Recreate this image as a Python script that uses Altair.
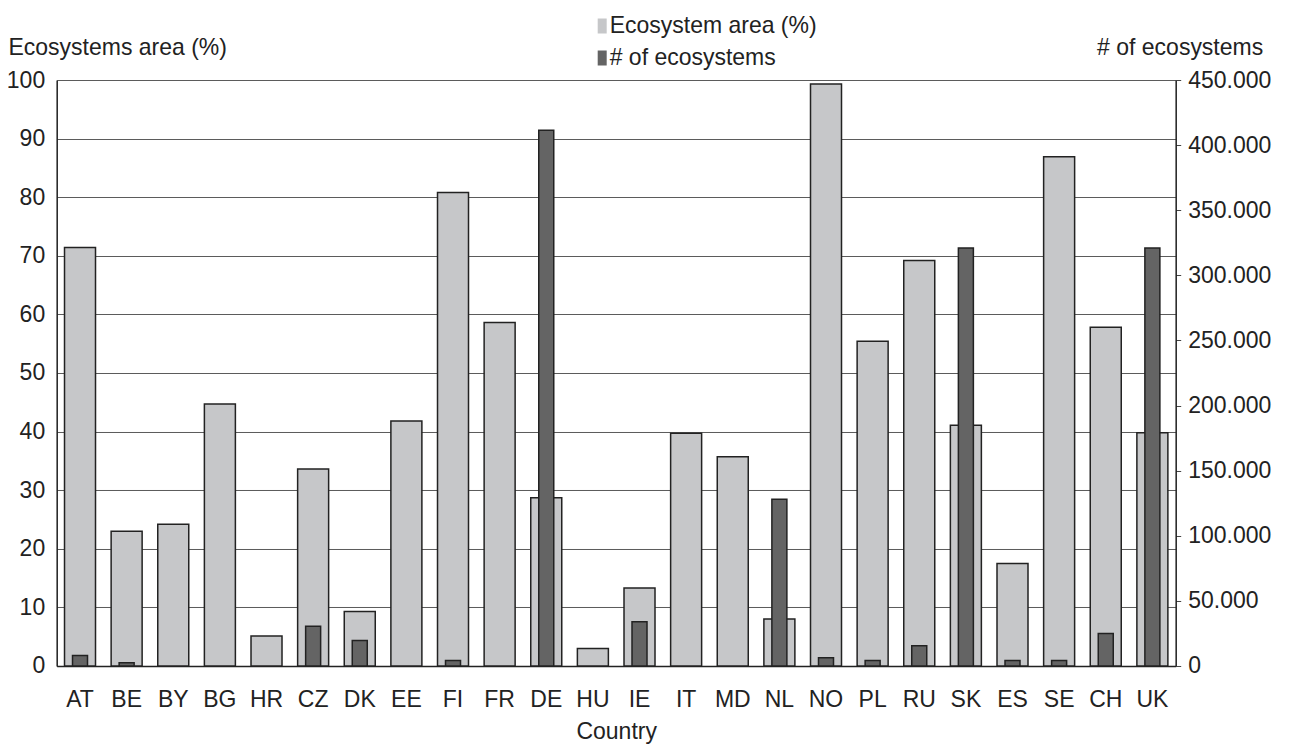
import altair as alt
import pandas as pd

countries = ["AT", "BE", "BY", "BG", "HR", "CZ", "DK", "EE", "FI", "FR", "DE", "HU",
             "IE", "IT", "MD", "NL", "NO", "PL", "RU", "SK", "ES", "SE", "CH", "UK"]
area_pct = [71.4, 23.0, 24.2, 44.7, 5.1, 33.6, 9.3, 41.8, 80.8, 58.6, 28.7, 3.0,
            13.3, 39.7, 35.7, 8.0, 99.3, 55.4, 69.2, 41.1, 17.5, 86.9, 57.8, 39.8]
n_ecosystems = [8000, 2500, 0, 0, 0, 30500, 19500, 0, 4200, 0, 411500, 0,
                34000, 0, 0, 128000, 6300, 4200, 15500, 321000, 4200, 4200, 25000, 321000]
series_names = ["Ecosystem area (%)", "# of ecosystems"]
series_colors = ["#C6C7C9", "#646464"]
left_ticks = list(range(0, 101, 10))
right_ticks = list(range(0, 450001, 50000))

df = pd.DataFrame({"country": countries, "area": area_pct, "count": n_ecosystems})

FONT = "Liberation Sans"
FS = 23
W, H = 1119, 586

x_enc = alt.X("country:N", sort=countries,
              scale=alt.Scale(paddingInner=0, paddingOuter=0),
              axis=alt.Axis(title="Country", labelAngle=0, ticks=False, tickSize=0,
                            labelPadding=34, labelBaseline="middle",
                            domainColor="#222222", domainWidth=1.5,
                            labelFont=FONT, labelFontSize=FS, labelColor="#222222",
                            titleFont=FONT, titleFontSize=FS, titleFontWeight="normal",
                            titleColor="#222222", titleX=W / 2, titleY=66,
                            titleBaseline="middle", titleAlign="center"))

color_enc = alt.Color("series:N",
                      scale=alt.Scale(domain=series_names, range=series_colors),
                      legend=alt.Legend(title=None, orient="none", legendX=530, legendY=-65.5,
                                        padding=0,
                                        symbolType="M-0.1,-1.5H1.7V1.5H-0.1Z", symbolSize=100,
                                        symbolStrokeWidth=0, symbolOpacity=1,
                                        labelFont=FONT, labelFontSize=FS, labelColor="#222222",
                                        labelOffset=0, rowPadding=8, labelLimit=400))

area_bars = alt.Chart(df).transform_calculate(
    series="'Ecosystem area (%)'"
).mark_bar(size=31, stroke="#222222", strokeWidth=1.5).encode(
    x=x_enc,
    y=alt.Y("area:Q", scale=alt.Scale(domain=[0, 100], nice=False),
            axis=alt.Axis(title="Ecosystems area (%)", orient="left", values=left_ticks,
                          grid=True, gridColor="#5a5a5a", gridWidth=1,
                          ticks=False, tickSize=0, labelPadding=12,
                          domainColor="#222222", domainWidth=1.5,
                          labelFont=FONT, labelFontSize=FS, labelColor="#222222",
                          titleFont=FONT, titleFontSize=FS, titleFontWeight="normal",
                          titleColor="#222222", titleAngle=0, titleAlign="left",
                          titleBaseline="middle", titleX=-48.7, titleY=-33)),
    color=color_enc,
)

count_bars = alt.Chart(df).transform_filter(
    "datum.count > 0"
).transform_calculate(
    series="'# of ecosystems'"
).mark_bar(size=15, stroke="#222222", strokeWidth=1.5).encode(
    x=x_enc,
    y=alt.Y("count:Q", scale=alt.Scale(domain=[0, 450000], nice=False),
            axis=alt.Axis(title="# of ecosystems", orient="right", values=right_ticks,
                          grid=False, ticks=True, tickSize=5, tickColor="#444444",
                          labelPadding=7,
                          labelExpr="replace(format(datum.value, ',d'), ',', '.')",
                          domainColor="#222222", domainWidth=1.5,
                          labelFont=FONT, labelFontSize=FS, labelColor="#222222",
                          titleFont=FONT, titleFontSize=FS, titleFontWeight="normal",
                          titleColor="#222222", titleAngle=0, titleAlign="right",
                          titleBaseline="middle", titleX=87, titleY=-33)),
    color=color_enc,
)

chart = alt.layer(area_bars, count_bars).resolve_scale(
    y="independent"
).properties(
    width=W, height=H,
    autosize=alt.AutoSizeParams(type="none"),
    padding={"left": 48.7, "top": 72, "right": 104, "bottom": 80},
).configure_view(stroke=None).configure(background="white")

chart.save("out.html", embed_options={"renderer": "svg", "actions": False})
